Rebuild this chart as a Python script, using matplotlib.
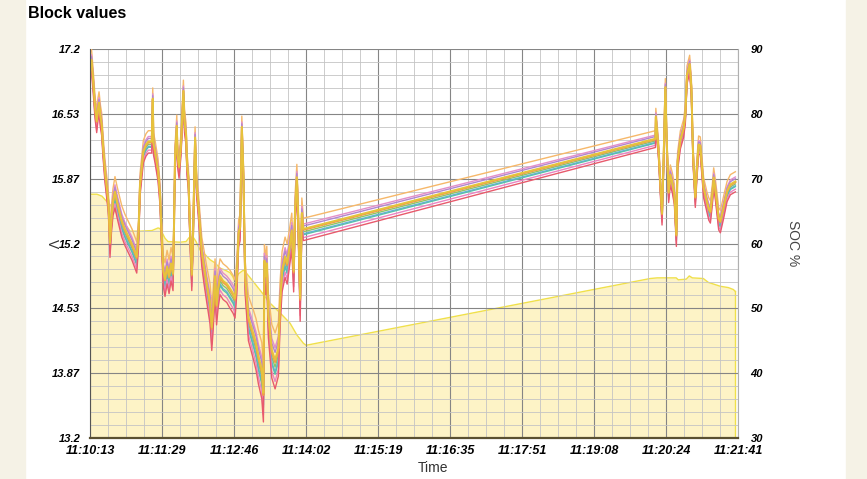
import numpy as np
import matplotlib
matplotlib.use('Agg')
import matplotlib.pyplot as plt
import matplotlib.ticker as ticker
from matplotlib.patches import Rectangle

plt.rcParams['font.family'] = ['Liberation Sans', 'DejaVu Sans']

# block voltage, seconds after 11:10:13 (bulk of the cells), plus how wide the cell bundle is
t_volt = [0, 1.6, 3.5, 5.3, 7.1, 8.5, 9.6, 11.1, 12.4, 13.8, 15.9, 19.4, 20.5, 21.2, 22.8,
          24.4, 26.5, 28.7, 33.7, 37.2, 40.7, 44.6, 49.6, 51.5, 53.1, 56.6, 59.5, 61.9, 65.5,
          66.6, 67.4, 69.0, 72.2, 74.3, 75.9, 77.8, 79.6, 81.8, 83.9, 86.0, 88.1, 89.2, 90.2,
          92.1, 92.9, 94.5, 96.6, 99.1, 100.3, 101.9, 103.0, 104.4, 106.2, 108.0, 109.4, 111.5,
          113.1, 114.7, 118.6, 121.0, 123.9, 127.4, 129.2, 130.6, 132.7, 134.3, 135.9, 138.0,
          141.2, 145.1, 148.6, 151.8, 153.9, 155.8, 157.7, 159.3, 161.1, 162.8, 164.6, 168.1,
          173.4, 176.2, 178.7, 182.3, 184.0, 185.1, 186.3, 187.6, 189.3, 192.9, 196.4, 199.9,
          201.7, 203.8, 207.0, 209.2, 211.3, 214.1, 216.1, 217.7, 219.5, 220.8, 223.0, 224.8,
          226.5,
          600.0, 600.4, 603.4, 605.2, 607.0, 608.4, 610.5, 612.1, 614.0, 615.8, 617.9, 620.1,
          622.2, 623.5, 626.4, 629.9, 631.7, 633.5, 636.3, 638.1, 639.9, 642.3, 643.9, 645.8,
          647.6, 651.1, 654.7, 656.6, 658.3, 660.4, 661.8, 663.6, 667.1, 668.9, 672.4, 676.0,
          679.5, 684.8]
v_bulk = [17.05, 17.08, 16.85, 16.60, 16.45, 16.58, 16.64, 16.50, 16.42, 16.20, 15.94, 15.63,
          15.40, 15.20, 15.45, 15.62, 15.72, 15.62, 15.42, 15.33, 15.26, 15.18, 15.05, 15.30,
          15.80, 16.14, 16.21, 16.24, 16.24, 16.68, 16.22, 16.14, 15.95, 15.70, 15.30, 14.91,
          14.82, 14.95, 14.85, 14.98, 14.88, 15.40, 16.08, 16.40, 16.10, 15.98, 16.22, 16.76,
          16.45, 16.32, 16.00, 15.87, 15.30, 14.87, 15.30, 16.28, 15.80, 15.63, 15.11, 14.95,
          14.77, 14.57, 14.32, 14.50, 14.85, 14.55, 14.72, 14.85, 14.80, 14.77, 14.72, 14.67,
          14.62, 14.85, 15.30, 15.36, 16.39, 15.90, 14.85, 14.42, 14.25, 14.15, 14.02, 13.88,
          13.64, 15.01, 14.85, 14.98, 14.45, 14.08, 13.98, 14.10, 14.57, 14.90, 15.05, 14.98,
          15.12, 15.32, 14.90, 15.55, 15.87, 15.50, 14.62, 15.50, 15.34,
          16.27, 16.50, 16.14, 15.80, 15.50, 15.95, 16.80, 16.20, 15.72, 15.90, 15.82, 15.70,
          15.28, 16.04, 16.26, 16.38, 16.52, 16.93, 17.04, 16.80, 16.11, 15.67, 15.95, 16.21,
          16.20, 15.77, 15.62, 15.55, 15.52, 15.70, 15.87, 15.75, 15.45, 15.42, 15.57, 15.73,
          15.80, 15.83]
v_spread = [1, 1, 1, 1, 1, 1, 1, 1, 1, 1, 1, 1, 1.2, 1.3, 1.2, 1.2, 1.4, 1.4, 1.4, 1.4, 1.4,
            1.4, 1.4, 1.2, 1, 1, 1, 1, 1, 1, 1, 1, 1, 1, 1.2, 1.4, 1.5, 1.5, 1.5, 1.5, 1.5, 1.2,
            1, 1, 1, 1, 1, 1, 1, 1, 1, 1, 1.2, 1.4, 1.2, 1, 1, 1.1, 1.3, 1.5, 1.6, 1.8, 2.0, 1.8,
            1.6, 1.7, 1.7, 1.6, 1.6, 1.6, 1.7, 1.7, 1.7, 1.5, 1.2, 1.2, 1, 1, 1.5, 2.0, 2.2, 2.3,
            2.4, 2.5, 2.5, 1.5, 1.6, 1.6, 2.0, 2.4, 2.5, 2.4, 2.0, 1.8, 1.8, 1.8, 1.7, 1.6, 1.8,
            1.4, 1.2, 1.4, 2.0, 1.4, 1.0,
            0.75, 0.75, 0.8, 0.9, 1.0, 0.9, 0.8, 0.8, 0.9, 0.9, 0.9, 0.9, 1.0, 0.8, 0.8, 0.8,
            0.8, 0.8, 0.8, 0.8, 0.8, 0.9, 0.9, 0.8, 0.8, 0.9, 0.9, 1.0, 1.0, 0.9, 0.9, 0.9, 1.0,
            1.0, 1.0, 0.9, 0.9, 0.9]

# per-cell colour and offset from the bulk (V)
cell_colors = ['#f6b86a', '#e58fc8', '#b286cf', '#8cc665', '#6aaee0', '#59bfae',
               '#ea84c2', '#e85a6c', '#f29a4a', '#e6c23c']
cell_offsets = [0.12, 0.06, 0.04, -0.02, -0.04, -0.05, -0.08, -0.11, 0.0, 0.01]

# state of charge
t_soc = [0, 7.4, 12.7, 17.0, 21.2, 26.5, 29.7, 34.0, 38.2, 42.5, 53.1, 65.8, 72.2, 74.3, 79.6,
         82.8, 95.6, 101.9, 105.1, 109.4, 112.5, 116.8, 122.1, 127.4, 132.7, 138.0, 143.3,
         148.6, 151.5, 153.9, 157.4, 162.8, 166.7, 171.7, 180.5, 191.1, 201.7, 212.3, 219.5,
         226.5, 229.3, 594.5, 601.9, 622.0, 624.2, 632.7, 635.9, 639.1, 650.8, 656.1, 660.4,
         668.9, 677.4, 682.7, 684.8]
soc = [67.6, 67.6, 67.3, 66.6, 66.0, 65.0, 64.4, 63.8, 62.8, 61.9, 61.9, 62.0, 62.4, 62.3, 60.8,
       60.3, 60.2, 60.3, 60.9, 61.0, 60.3, 59.0, 58.3, 57.5, 57.0, 56.2, 55.9, 55.5, 54.9, 54.1,
       55.3, 55.9, 55.3, 54.4, 52.8, 50.8, 49.3, 47.7, 45.9, 44.6, 44.3, 54.6, 54.7, 54.7, 54.4,
       54.5, 55.0, 54.7, 54.6, 54.0, 53.8, 53.4, 53.2, 52.9, 52.6]

t_span = 687.6
time_labels = ['11:10:13', '11:11:29', '11:12:46', '11:14:02', '11:15:19', '11:16:35',
               '11:17:51', '11:19:08', '11:20:24', '11:21:41']
volt_labels = ['13.2', '13.87', '14.53', '15.2', '15.87', '16.53', '17.2']

t_volt = np.array(t_volt)
v_bulk = np.array(v_bulk)
v_spread = np.array(v_spread)

fig = plt.figure(figsize=(8.67, 4.79), dpi=100)
fig.patches.append(Rectangle((0, 0), 25 / 867, 1, transform=fig.transFigure,
                             color='#f5f2e6', zorder=0))
fig.patches.append(Rectangle((846 / 867, 0), 21 / 867, 1, transform=fig.transFigure,
                             color='#f5f2e6', zorder=0))

ax_soc = fig.add_axes([90 / 867, 1 - 438 / 479, 648 / 867, 389 / 479])
ax = ax_soc.twinx()

# SOC area behind everything
ax_soc.fill_between(t_soc, 30, soc, color='#fdf3c6', lw=0)
ax_soc.plot(t_soc, soc, color='#f0e04a', lw=1.0)
ax_soc.plot([t_soc[-1], t_soc[-1]], [30, soc[-1]], color='#f0e04a', lw=1.0)
ax_soc.set_ylim(30, 90)
ax_soc.set_xlim(0, t_span)
ax_soc.yaxis.tick_right()
ax_soc.yaxis.set_label_position('right')
ax_soc.yaxis.set_major_locator(ticker.MultipleLocator(10))
ax_soc.set_ylabel('SOC %', rotation=270, fontsize=10, color='#444444', va='center')
ax_soc.yaxis.set_label_coords(1.085, 0.5)

# voltage axis on top, carrying the grid
ax.patch.set_visible(False)
ax.xaxis.set_visible(True)
ax.yaxis.tick_left()
ax.yaxis.set_label_position('left')
ax.set_ylim(13.2, 17.2)
ax.set_yticks(np.linspace(13.2, 17.2, 7))
ax.set_yticklabels(volt_labels)
ax.yaxis.set_minor_locator(ticker.AutoMinorLocator(5))
ax_soc.set_xticks(np.linspace(0, t_span, 10))
ax_soc.set_xticklabels(time_labels)
ax_soc.xaxis.set_minor_locator(ticker.AutoMinorLocator(4))
ax.tick_params(axis='x', which='both', labelbottom=False, labeltop=False)
ax.set_axisbelow(True)
ax.grid(which='major', axis='both', color='#858585', lw=0.8)
ax.grid(which='minor', axis='both', color='#c4c4c4', lw=0.6)
ax.set_ylabel('V', fontsize=10, color='#333333', rotation=270, va='center')
ax.yaxis.set_label_coords(-0.058, 0.5)
ax_soc.set_xlabel('Time', fontsize=10, color='#333333')
ax_soc.xaxis.set_label_coords(0.53, -0.058)

for col, off in zip(cell_colors, cell_offsets):
    lw = 1.4 if col in ('#e6c23c', '#f29a4a') else 1.0
    ax.plot(t_volt, v_bulk + off * v_spread, color=col, lw=lw)

for a in (ax, ax_soc):
    a.tick_params(which='both', length=0)
    for s in a.spines.values():
        s.set_visible(False)
ax.spines['left'].set_visible(True)
ax.spines['left'].set_color('#555555')
ax.spines['bottom'].set_visible(True)
ax.spines['bottom'].set_color('#5a5030')
ax.spines['bottom'].set_linewidth(1.6)
ax.spines['right'].set_visible(True)
ax.spines['right'].set_color('#b0b0b0')

ax.tick_params(axis='y', pad=7)
ax_soc.tick_params(axis='y', pad=9)
ax_soc.tick_params(axis='x', pad=5)
for lab in ax.get_yticklabels() + ax_soc.get_yticklabels() + ax_soc.get_xticklabels():
    lab.set_fontsize(8)
    lab.set_fontweight('bold')
    lab.set_fontstyle('italic')
for lab in ax_soc.get_xticklabels():
    lab.set_fontsize(9)

fig.text(28 / 867, 1 - 14 / 479, 'Block values', fontsize=11.5, fontweight='bold',
         va='center', ha='left')

plt.savefig('out.png', dpi=100)
